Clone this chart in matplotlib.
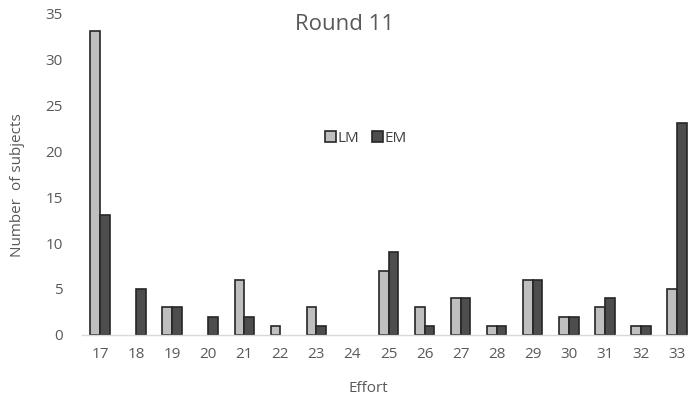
import matplotlib
matplotlib.use("Agg")
import matplotlib.pyplot as plt
import numpy as np

efforts = [17, 18, 19, 20, 21, 22, 23, 24, 25, 26, 27, 28, 29, 30, 31, 32, 33]
lm_counts = [33, 0, 3, 0, 6, 1, 3, 0, 7, 3, 4, 1, 6, 2, 3, 1, 5]
em_counts = [13, 5, 3, 2, 2, 0, 1, 0, 9, 1, 4, 1, 6, 2, 4, 1, 23]
y_ticks = [0, 5, 10, 15, 20, 25, 30, 35]

plt.rcParams['font.family'] = ['Open Sans', 'DejaVu Sans']
text_color = '#595959'

fig = plt.figure(figsize=(6.88, 4.01), dpi=100)
# axes extends slightly beyond the right edge of the canvas
ax = fig.add_axes([82/688, 1 - 335/401, 613/688, 322/401])

x = np.arange(len(efforts))
w = 0.27


def edge_widths(vals):
    # no outline for empty bars
    return [1.2 if v > 0 else 0 for v in vals]


ax.bar(x - w/2, lm_counts, width=w, color='#BFBFBF', edgecolor='#262626',
       linewidth=edge_widths(lm_counts), label='LM')
ax.bar(x + w/2, em_counts, width=w, color='#4D4D4D', edgecolor='#262626',
       linewidth=edge_widths(em_counts), label='EM')

ax.set_xlim(-0.5, len(efforts) - 0.5)
ax.set_ylim(0, 35)
ax.set_yticks(y_ticks)
ax.set_xticks(x)
ax.set_xticklabels([str(e) for e in efforts])
ax.tick_params(axis='both', length=0, labelsize=11, colors=text_color)
ax.tick_params(axis='x', pad=9)
ax.tick_params(axis='y', pad=14)

for s in ['top', 'right', 'left']:
    ax.spines[s].set_visible(False)
ax.spines['bottom'].set_color('#D9D9D9')
ax.spines['bottom'].set_linewidth(1.0)

fig.text(345/688, 1 - 25/401, 'Round 11', ha='center', va='center', fontsize=16, color=text_color)
fig.text(368/688, 1 - 388/401, 'Effort', ha='center', va='center', fontsize=11, color=text_color)
fig.text(18/688, 1 - 185/401, 'Number  of subjects', ha='center', va='center', rotation=90,
         fontsize=11, color=text_color)

leg = ax.legend(loc='center', bbox_to_anchor=(366/688, 1 - 138/401), bbox_transform=fig.transFigure,
                ncol=2, frameon=False, fontsize=11, handlelength=0.7, handleheight=0.7,
                handletextpad=0.15, columnspacing=0.8, labelcolor='#404040')

fig.savefig('out.png', dpi=100)
